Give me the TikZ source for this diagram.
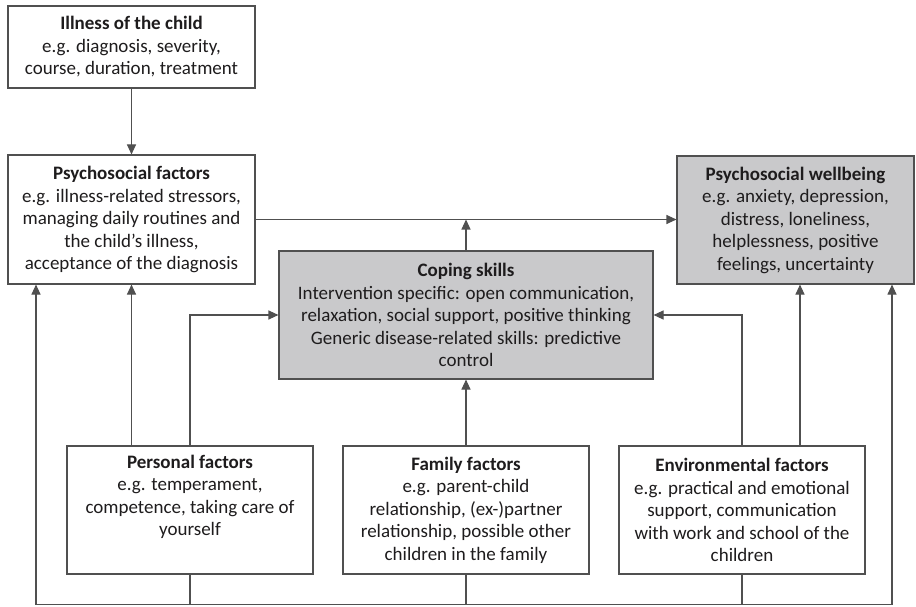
\documentclass[tikz,border=0pt]{standalone}
\usepackage{fontspec}
\setmainfont{Carlito}
\usetikzlibrary{arrows.meta}
\definecolor{boxgrey}{RGB}{201,201,203}
\definecolor{linegrey}{RGB}{80,80,80}
\definecolor{inkgrey}{RGB}{30,28,29}
\begin{document}
\begin{tikzpicture}[x=1pt,y=-1pt,
    factor/.style={draw=linegrey,line width=1.1pt,fill=white,align=center,
      text=inkgrey,inner sep=2pt,font=\fontsize{19}{22.5}\selectfont,
      minimum width=246pt,minimum height=128pt},
    outcome/.style={factor,fill=boxgrey},
    link/.style={draw=linegrey,line width=1.1pt,-{Triangle[length=10pt,width=9pt]}},
    wire/.style={draw=linegrey,line width=1.1pt}]
  \useasboundingbox (0,0) rectangle (916,607);
  % top row
  \node[factor,minimum width=247pt,minimum height=82pt] (ill) at (131.5,47)
    {\textbf{Illness of the child}\\e.g. diagnosis, severity,\\course, duration, treatment};
  \node[factor,minimum width=247pt,minimum height=129pt] (psf) at (131.5,219.5)
    {\textbf{Psychosocial factors}\\e.g. illness-related stressors,\\managing daily routines and\\the child’s illness,\\acceptance of the diagnosis};
  \node[outcome,minimum width=237pt] (wb) at (795.5,220)
    {\textbf{Psychosocial wellbeing}\\e.g. anxiety, depression,\\distress, loneliness,\\helplessness, positive\\feelings, uncertainty};
  \node[outcome,minimum width=374pt] (cope) at (466,315)
    {\textbf{Coping skills}\\Intervention specific: open communication,\\relaxation, social support, positive thinking\\Generic disease-related skills: predictive\\control};
  % bottom row
  \node[factor] (pers) at (190,510)
    {\textbf{Personal factors}\\e.g. temperament,\\competence, taking care of\\yourself\\\strut};
  \node[factor] (fam) at (466,510)
    {\textbf{Family factors}\\e.g. parent-child\\relationship, (ex-)partner\\relationship, possible other\\children in the family};
  \node[factor] (env) at (742,510)
    {\textbf{Environmental factors}\\e.g. practical and emotional\\support, communication\\with work and school of the\\children};
  \coordinate (bl) at (36,604.5);
  \coordinate (br) at (892,604.5);
  % arrows
  \draw[link] (ill) -- (psf);
  \draw[link] (psf.east) -- (psf.east -| wb.west);
  \draw[link] (cope.north) -- (cope.north |- psf.east);
  \draw[link] (psf.south |- pers.north) -- (psf.south);
  \draw[link] (pers.north) |- (cope.west);
  \draw[link] (fam.north) -- (cope.south);
  \draw[link] (env.north) |- (cope.east);
  \draw[link] ([xshift=58pt]env.north) -- ([xshift=58pt]env.north |- wb.south);
  % feedback along the bottom
  \draw[wire] (pers.south) -- (pers.south |- bl);
  \draw[wire] (fam.south) -- (fam.south |- bl);
  \draw[wire] (env.south) -- (env.south |- bl);
  \draw[wire] (bl) -- (br);
  \draw[link] (bl) -- (bl |- psf.south);
  \draw[link] (br) -- (br |- wb.south);
\end{tikzpicture}
\end{document}
